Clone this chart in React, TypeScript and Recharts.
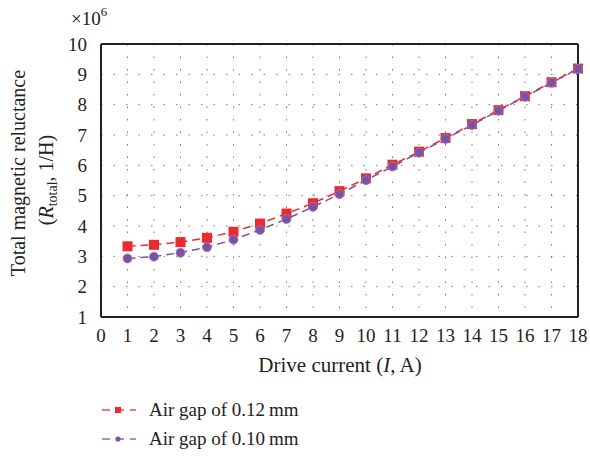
import { CartesianGrid, Customized, Legend, Line, LineChart, ReferenceLine, XAxis, YAxis } from "recharts";

const current = [1, 2, 3, 4, 5, 6, 7, 8, 9, 10, 11, 12, 13, 14, 15, 16, 17, 18];
const gap012 = [3.33, 3.38, 3.47, 3.61, 3.81, 4.08, 4.41, 4.75, 5.15, 5.57, 6.02, 6.45, 6.9, 7.36, 7.82, 8.28, 8.74, 9.19];
const gap010 = [2.93, 2.99, 3.12, 3.3, 3.55, 3.87, 4.23, 4.63, 5.05, 5.51, 5.96, 6.42, 6.87, 7.33, 7.8, 8.26, 8.72, 9.18];
const xTicks = [0, 1, 2, 3, 4, 5, 6, 7, 8, 9, 10, 11, 12, 13, 14, 15, 16, 17, 18];
const yTicks = [1, 2, 3, 4, 5, 6, 7, 8, 9, 10];

const data = current.map((c, i) => ({ current: c, gap012: gap012[i], gap010: gap010[i] }));

const FONT = "'Liberation Serif', 'DejaVu Serif', serif";
const RED = "#ec2a2d";
const PURPLE = "#7b52a3";

const legendItems = [
    { name: "Air gap of 0.12\u2009mm", color: RED, shape: "square" },
    { name: "Air gap of 0.10\u2009mm", color: PURPLE, shape: "circle" },
];

function renderLegend() {
    return (
        <div style={{ fontFamily: FONT, fontSize: 19, color: "#222" }}>
            {legendItems.map((item) => (
                <div key={item.name} style={{ display: "flex", alignItems: "center", height: 29 }}>
                    <svg width={38} height={12}>
                        <line x1={0} x2={36} y1={6} y2={6} stroke={item.color} strokeWidth={1.3} strokeDasharray="8 6" strokeDashoffset={-2} opacity={0.85} />
                        {item.shape === "square"
                            ? <rect x={15} y={3} width={6} height={6} fill={item.color} />
                            : <circle cx={18} cy={6} r={2.6} fill={item.color} />}
                    </svg>
                    <span style={{ marginLeft: 11 }}>{item.name}</span>
                </div>
            ))}
        </div>
    );
}

const Square = (props: any) => {
    const { cx, cy } = props;
    if (cx == null || cy == null) return null;
    return <rect x={cx - 5} y={cy - 5} width={10} height={10} fill={RED} />;
};

const Dot = (props: any) => {
    const { cx, cy } = props;
    if (cx == null || cy == null) return null;
    return <circle cx={cx} cy={cy} r={4.5} fill={PURPLE} stroke="#9a7cc0" strokeWidth={0.8} />;
};

const ExtraText = () => (
    <g fontFamily={FONT} fill="#222">
        <text x={71} y={25} fontSize={19}>
            ×10<tspan dy={-9} fontSize={13}>6</tspan>
        </text>
        <text transform="translate(25,173) rotate(-90)" textAnchor="middle" fontSize={20}>
            Total magnetic reluctance
        </text>
        <text transform="translate(53,180) rotate(-90)" textAnchor="middle" fontSize={20}>
            (<tspan fontStyle="italic">R</tspan>
            <tspan dy={4} fontSize={14}>total</tspan>
            <tspan dy={-4}>, 1/H)</tspan>
        </text>
        <text x={340} y={372} textAnchor="middle" fontSize={21}>
            Drive current (<tspan fontStyle="italic">I</tspan>, A)
        </text>
    </g>
);

export default function App() {
    return (
        <div style={{ position: "absolute", left: 0, top: 0, background: "#fff" }}>
            <LineChart
                width={590}
                height={457}
                data={data}
                margin={{ top: 44, right: 12, bottom: 110, left: 41 }}
            >
                <CartesianGrid stroke="#777" strokeDasharray="1.5 11" />
                <XAxis
                    dataKey="current"
                    type="number"
                    domain={[0, 18]}
                    ticks={xTicks}
                    interval={0}
                    height={30}
                    axisLine={{ stroke: "#222", strokeWidth: 2 }}
                    tickLine={false}
                    tickMargin={6}
                    tick={{ fontFamily: FONT, fontSize: 19, fill: "#222" }}
                />
                <YAxis
                    type="number"
                    domain={[1, 10]}
                    ticks={yTicks}
                    interval={0}
                    width={60}
                    axisLine={{ stroke: "#222", strokeWidth: 2 }}
                    tickLine={false}
                    tickMargin={8}
                    tick={{ fontFamily: FONT, fontSize: 19, fill: "#222" }}
                />
                <ReferenceLine y={10} stroke="#222" strokeWidth={2} />
                <ReferenceLine x={18} stroke="#222" strokeWidth={2} />
                <Line
                    dataKey="gap012"
                    stroke={RED}
                    strokeWidth={1.5}
                    strokeDasharray="8 5"
                    dot={<Square />}
                    activeDot={false}
                    isAnimationActive={false}
                />
                <Line
                    dataKey="gap010"
                    stroke={PURPLE}
                    strokeWidth={1.5}
                    strokeDasharray="8 5"
                    dot={<Dot />}
                    activeDot={false}
                    isAnimationActive={false}
                />
                <Legend
                    layout="vertical"
                    align="center"
                    verticalAlign="middle"
                    content={renderLegend}
                    wrapperStyle={{ left: 100, top: 395, width: 280 }}
                />
                <Customized component={ExtraText} />
            </LineChart>
        </div>
    );
}
